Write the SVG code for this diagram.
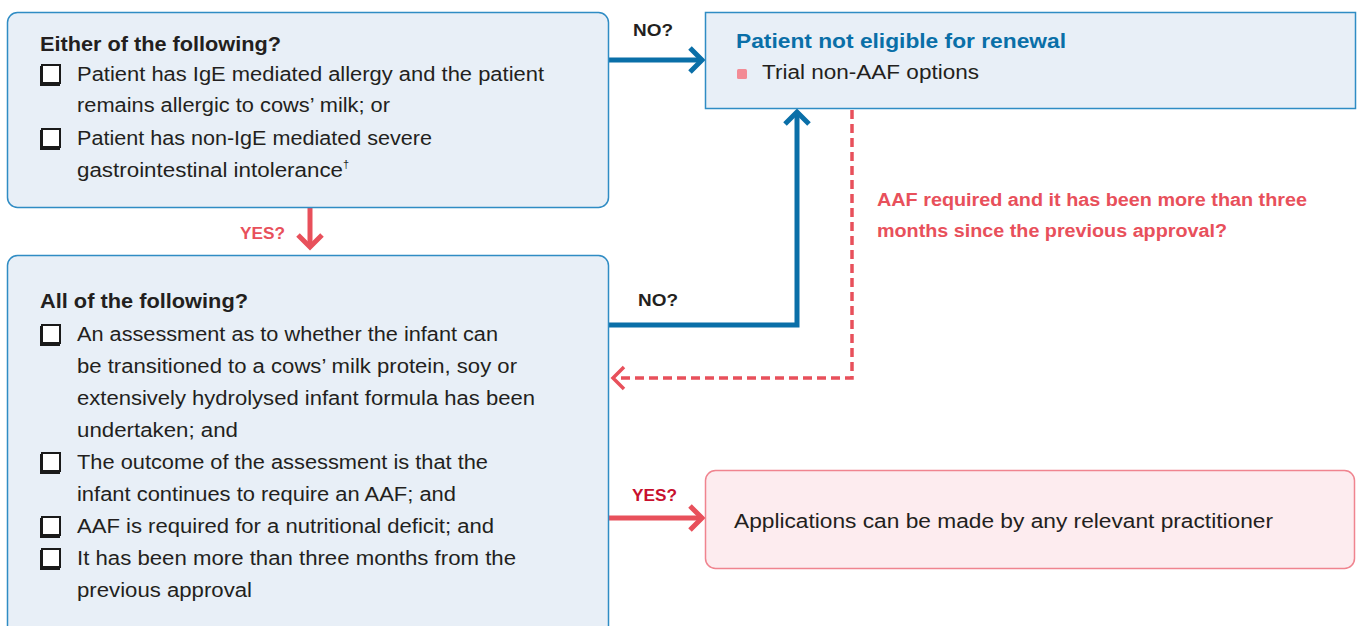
<svg xmlns="http://www.w3.org/2000/svg" xmlns:xlink="http://www.w3.org/1999/xlink" width="1359" height="626" viewBox="0 0 1359 626">
<style>
.bluebox{fill:#e8eff7;stroke:#2f8cc4;stroke-width:1.5}
.pinkbox{fill:#fdecef;stroke:#f0848f;stroke-width:1.5}
.t{font-family:"Liberation Sans",Arial,sans-serif;font-size:20px;fill:#231f20}
.h{font-family:"Liberation Sans",Arial,sans-serif;font-size:20px;font-weight:bold;fill:#231f20}
.hb{font-family:"Liberation Sans",Arial,sans-serif;font-size:20.5px;font-weight:bold;fill:#0a6fa8}
.lbl{font-family:"Liberation Sans",Arial,sans-serif;font-size:17px;font-weight:bold;fill:#231f20}
.lr{font-family:"Liberation Sans",Arial,sans-serif;font-size:17px;font-weight:bold;fill:#e8505b}
.ld{font-family:"Liberation Sans",Arial,sans-serif;font-size:17px;font-weight:bold;fill:#c8102e}
.q{font-family:"Liberation Sans",Arial,sans-serif;font-size:18px;font-weight:bold;fill:#e8505b}
.blue{fill:none;stroke:#0a6fa8;stroke-width:5}
.red{fill:none;stroke:#e8505b;stroke-width:5}
.dash{fill:none;stroke:#e8505b;stroke-width:3.5;stroke-dasharray:9 5}
.cbs{fill:#1a1a1a}
.cb{fill:#ffffff;stroke:#1a1a1a;stroke-width:2}
</style>
<defs>
<g id="chk">
<rect class="cbs" x="0" y="2" width="20" height="20"/>
<rect class="cb" x="2" y="1" width="18" height="18"/>
</g>
</defs>

<g id="connectors">
<path class="blue" d="M609 60 H701"/>
<path class="blue" d="M690 48 L702 60 L690 72"/>
<path class="blue" d="M609 325 H797 V112"/>
<path class="blue" d="M785 124 L797 112 L809 124"/>
<path class="red" d="M310 208 V247"/>
<path class="red" d="M298 235 L310 247 L322 235"/>
<path class="red" d="M609 518 H701"/>
<path class="red" d="M690 506 L702 518 L690 530"/>
<path class="dash" d="M852 110 V378 H616"/>
<path fill="none" stroke="#e8505b" stroke-width="3.5" d="M624 367 L613 378 L624 389"/>
<text class="lbl" x="633" y="36" textLength="40" lengthAdjust="spacingAndGlyphs">NO?</text>
<text class="lbl" x="638" y="306" textLength="40" lengthAdjust="spacingAndGlyphs">NO?</text>
<text class="lr" x="240" y="239" textLength="45" lengthAdjust="spacingAndGlyphs">YES?</text>
<text class="ld" x="632" y="501" textLength="45" lengthAdjust="spacingAndGlyphs">YES?</text>
<text class="q" x="877" y="206" textLength="430" lengthAdjust="spacingAndGlyphs">AAF required and it has been more than three</text>
<text class="q" x="877" y="237" textLength="350" lengthAdjust="spacingAndGlyphs">months since the previous approval?</text>
</g>

<g id="node-either">
<rect class="bluebox" x="7.5" y="12.5" width="601" height="195" rx="10"/>
<text class="h" x="40" y="51" textLength="241" lengthAdjust="spacingAndGlyphs">Either of the following?</text>
<use xlink:href="#chk" x="40" y="64"/>
<text class="t" x="77" y="81" textLength="467" lengthAdjust="spacingAndGlyphs">Patient has IgE mediated allergy and the patient</text>
<text class="t" x="77" y="112" textLength="313" lengthAdjust="spacingAndGlyphs">remains allergic to cows’ milk; or</text>
<use xlink:href="#chk" x="40" y="128"/>
<text class="t" x="77" y="145" textLength="355" lengthAdjust="spacingAndGlyphs">Patient has non-IgE mediated severe</text>
<text class="t" x="77" y="177" textLength="266" lengthAdjust="spacingAndGlyphs">gastrointestinal intolerance</text>
<text class="t" x="343" y="168" style="font-size:11px">†</text>
</g>

<g id="node-all">
<rect class="bluebox" x="7.5" y="255.5" width="601" height="390" rx="10"/>
<text class="h" x="40" y="308" textLength="208" lengthAdjust="spacingAndGlyphs">All of the following?</text>
<use xlink:href="#chk" x="40" y="324"/>
<text class="t" x="77" y="341" textLength="421" lengthAdjust="spacingAndGlyphs">An assessment as to whether the infant can</text>
<text class="t" x="77" y="373" textLength="440" lengthAdjust="spacingAndGlyphs">be transitioned to a cows’ milk protein, soy or</text>
<text class="t" x="77" y="405" textLength="458" lengthAdjust="spacingAndGlyphs">extensively hydrolysed infant formula has been</text>
<text class="t" x="77" y="437" textLength="161" lengthAdjust="spacingAndGlyphs">undertaken; and</text>
<use xlink:href="#chk" x="40" y="452"/>
<text class="t" x="77" y="469" textLength="411" lengthAdjust="spacingAndGlyphs">The outcome of the assessment is that the</text>
<text class="t" x="77" y="501" textLength="379" lengthAdjust="spacingAndGlyphs">infant continues to require an AAF; and</text>
<use xlink:href="#chk" x="40" y="516"/>
<text class="t" x="77" y="533" textLength="417" lengthAdjust="spacingAndGlyphs">AAF is required for a nutritional deficit; and</text>
<use xlink:href="#chk" x="40" y="548"/>
<text class="t" x="77" y="565" textLength="439" lengthAdjust="spacingAndGlyphs">It has been more than three months from the</text>
<text class="t" x="77" y="597" textLength="175" lengthAdjust="spacingAndGlyphs">previous approval</text>
</g>

<g id="node-not-eligible">
<rect class="bluebox" x="705.5" y="12.5" width="650" height="96"/>
<text class="hb" x="736" y="48" textLength="330" lengthAdjust="spacingAndGlyphs">Patient not eligible for renewal</text>
<rect x="737" y="69" width="10" height="10" rx="1.5" fill="#f38b95"/>
<text class="t" x="762" y="79" textLength="217" lengthAdjust="spacingAndGlyphs">Trial non-AAF options</text>
</g>

<g id="node-applications">
<rect class="pinkbox" x="705.5" y="470.5" width="649" height="98" rx="10"/>
<text class="t" x="734" y="528" textLength="539" lengthAdjust="spacingAndGlyphs">Applications can be made by any relevant practitioner</text>
</g>
</svg>
